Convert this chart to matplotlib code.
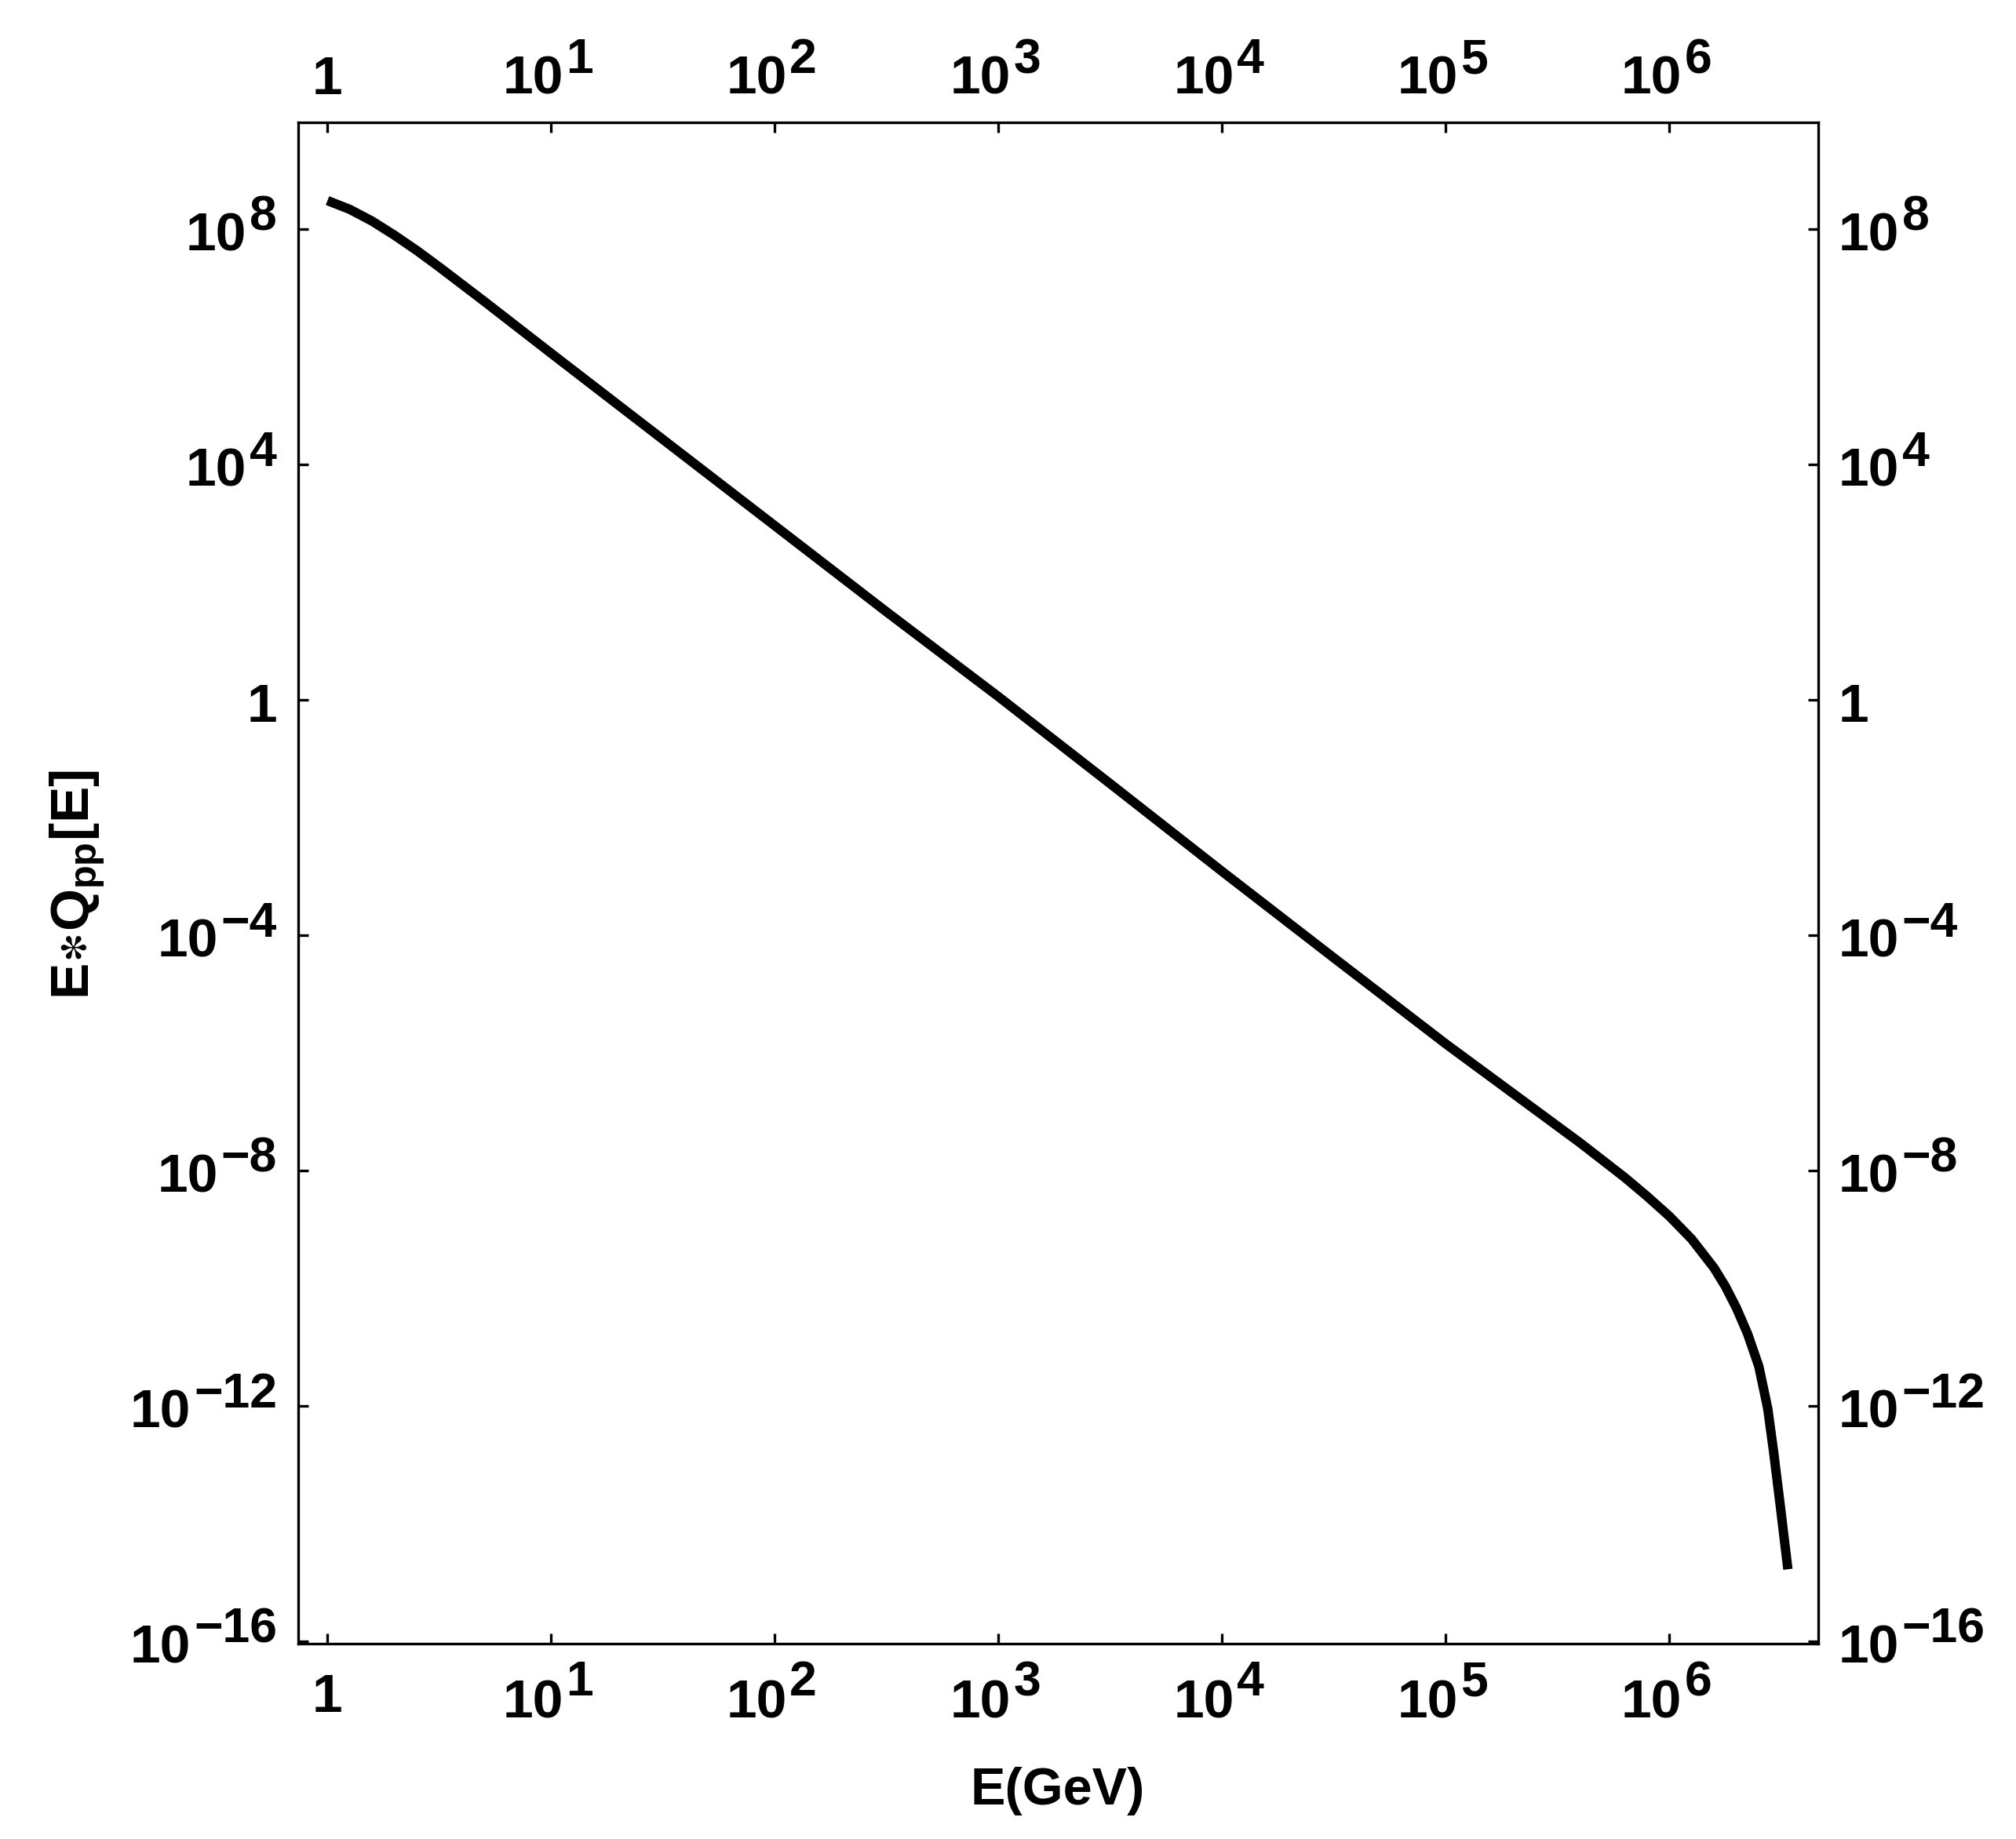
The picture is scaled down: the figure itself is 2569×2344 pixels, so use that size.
import numpy as np
import matplotlib
matplotlib.use('Agg')
import matplotlib.pyplot as plt
from matplotlib import transforms as mtransforms
from matplotlib.ticker import NullLocator

plt.rcParams['font.family'] = ['Liberation Sans', 'DejaVu Sans']
plt.rcParams['font.weight'] = 'bold'
plt.rcParams['mathtext.fontset'] = 'custom'
plt.rcParams['mathtext.rm'] = 'Liberation Sans:bold'
plt.rcParams['mathtext.it'] = 'Liberation Sans:bold'
plt.rcParams['mathtext.bf'] = 'Liberation Sans:bold'
plt.rcParams['mathtext.fallback'] = 'stixsans'

# ---- data (log10 values) ----
log_energy = [0.0, 0.1, 0.2, 0.3, 0.4, 0.5, 0.6, 0.7, 0.8, 0.9,
              1.0, 1.5, 2.0, 2.5, 3.0, 3.5, 4.0, 4.5, 5.0,
              5.3, 5.6, 5.8, 5.9, 6.0, 6.1, 6.2, 6.25, 6.3, 6.35,
              6.4, 6.44, 6.466, 6.495, 6.530]
log_eq = [8.48, 8.33, 8.13, 7.89, 7.63, 7.35, 7.06, 6.77, 6.475, 6.18,
          5.885, 4.42, 2.955, 1.49, 0.05, -1.43, -2.92, -4.39, -5.85,
          -6.69, -7.53, -8.12, -8.44, -8.78, -9.17, -9.66, -9.97, -10.34, -10.78,
          -11.33, -12.05, -12.78, -13.67, -14.78]

x_tick_values = [1, 1e1, 1e2, 1e3, 1e4, 1e5, 1e6]
x_tick_exps = [None, '1', '2', '3', '4', '5', '6']
y_tick_values = [1e8, 1e4, 1, 1e-4, 1e-8, 1e-12, 1e-16]
y_tick_exps = ['8', '4', None, '\u22124', '\u22128', '\u221212', '\u221216']

x_label = 'E(GeV)'
y_label = r'$E{\ast}Q_{pp}[E]$'

energy = 10.0 ** np.array(log_energy)
eq = 10.0 ** np.array(log_eq)

# ---- figure layout ----
W, H, DPI = 2569, 2344, 100
fig = plt.figure(figsize=(W / DPI, H / DPI), dpi=DPI)
L, R, B, T = 380, 2316.5, 2095, 156
ax = fig.add_axes([L / W, (H - B) / H, (R - L) / W, (B - T) / H])
ax.set_xscale('log')
ax.set_yscale('log')
ax.set_xlim(10 ** -0.131, 10 ** 6.664)
ax.set_ylim(10 ** -16.044, 10 ** 9.809)

ax.plot(energy, eq, color='black', lw=8.6, solid_capstyle='butt',
        solid_joinstyle='round')

ax.set_xticks(x_tick_values)
ax.set_yticks(y_tick_values)
ax.xaxis.set_minor_locator(NullLocator())
ax.yaxis.set_minor_locator(NullLocator())
ax.tick_params(which='major', direction='in', length=9.3, width=2.4,
               top=True, right=True, bottom=True, left=True,
               labelbottom=False, labeltop=False, labelleft=False,
               labelright=False, color='black')
for sp in ax.spines.values():
    sp.set_linewidth(2.4)

main_fs = 50
exp_fs = 45


def off(tr, dx, dy):
    return mtransforms.offset_copy(tr, fig=fig, x=dx, y=dy, units='dots')


ytr = ax.get_yaxis_transform()
xtr = ax.get_xaxis_transform()

# y labels (left and right)
for v, e in zip(y_tick_values, y_tick_exps):
    if e is None:
        ax.text(0, v, '1', transform=off(ytr, -27, -28), ha='right',
                va='baseline', fontsize=main_fs, fontweight='bold')
        ax.text(1, v, '1', transform=off(ytr, 26, -28), ha='left',
                va='baseline', fontsize=main_fs, fontweight='bold')
    else:
        et = ax.text(0, v, e, transform=off(ytr, -27, -2), ha='right',
                     va='baseline', fontsize=exp_fs, fontweight='bold')
        ax.annotate('10', xy=(0, v), xycoords=(et, ytr), xytext=(-4, -28),
                    textcoords='offset pixels', ha='right', va='baseline',
                    fontsize=main_fs, fontweight='bold')
        tt = ax.text(1, v, '10', transform=off(ytr, 26, -28), ha='left',
                     va='baseline', fontsize=main_fs, fontweight='bold')
        ax.annotate(e, xy=(1, v), xycoords=(tt, ytr), xytext=(4, -2),
                    textcoords='offset pixels', ha='left', va='baseline',
                    fontsize=exp_fs, fontweight='bold')

# x labels (bottom and top)
for v, e in zip(x_tick_values, x_tick_exps):
    if e is None:
        ax.text(v, 0, '1', transform=off(xtr, 0, -86.7), ha='center',
                va='baseline', fontsize=main_fs, fontweight='bold')
        ax.text(v, 1, '1', transform=off(xtr, 0, 36), ha='center',
                va='baseline', fontsize=main_fs, fontweight='bold')
    else:
        tb = ax.text(v, 0, '10', transform=off(xtr, 16, -94), ha='right',
                     va='baseline', fontsize=main_fs, fontweight='bold')
        ax.annotate(e, xy=(1, 0), xycoords=(tb, xtr), xytext=(3, -94 + 27.6),
                    textcoords='offset pixels', ha='left', va='baseline',
                    fontsize=exp_fs, fontweight='bold')
        tt = ax.text(v, 1, '10', transform=off(xtr, 16, 36), ha='right',
                     va='baseline', fontsize=main_fs, fontweight='bold')
        ax.annotate(e, xy=(1, 1), xycoords=(tt, xtr), xytext=(3, 36 + 27),
                    textcoords='offset pixels', ha='left', va='baseline',
                    fontsize=exp_fs, fontweight='bold')

fig.text(1348 / W, (H - 2300) / H, x_label, ha='center', va='baseline',
         fontsize=48, fontweight='bold')
fig.text(99 / W, (H - 1127) / H, y_label, rotation=90, ha='center',
         va='center', fontsize=50)

fig.savefig('out.png', dpi=DPI)
